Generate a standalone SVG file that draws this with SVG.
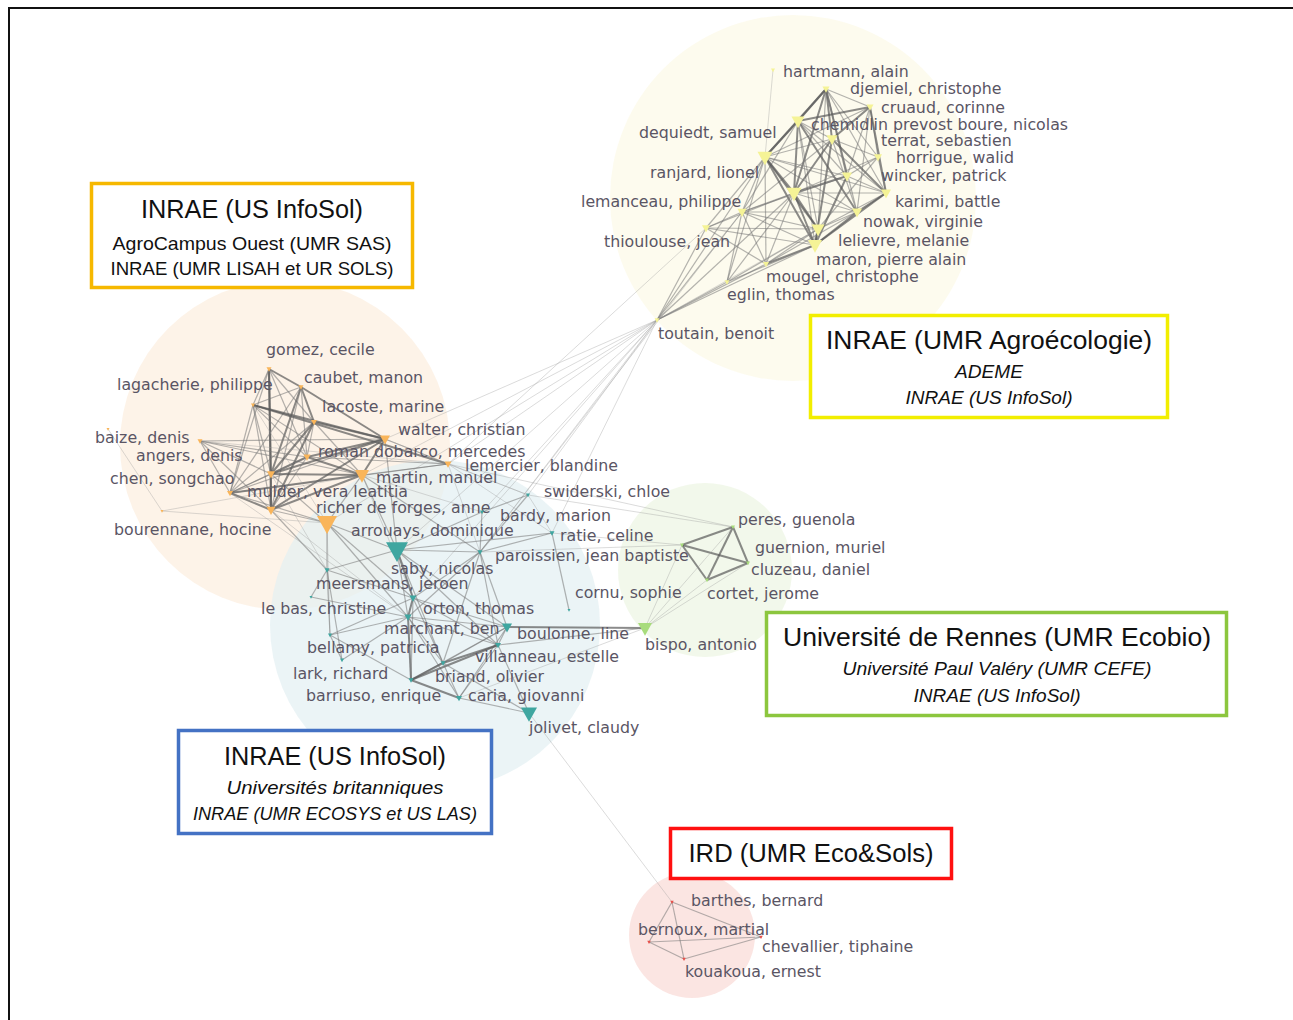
<svg xmlns="http://www.w3.org/2000/svg" xmlns:xlink="http://www.w3.org/1999/xlink" width="1293" height="1020" viewBox="0 0 1293 1020">
<style>
.lab{font-family:"DejaVu Sans",sans-serif;font-size:15.8px;fill:#5a5564}
.bt{font-family:"Liberation Sans",Arial,sans-serif;fill:#111;text-anchor:middle}
.t1{font-size:25px}
.t2{font-size:19px}
.it{font-style:italic}
.box{fill:#fff;stroke-width:3.5}
.e{stroke:#777;stroke-opacity:.55;stroke-width:1.2}
.e2{stroke:#5a5a5a;stroke-opacity:.7;stroke-width:2}
.e0{stroke:#999;stroke-opacity:.45;stroke-width:.8}
.y{fill:#f5f396}
.o{fill:#f9b55a}
.b{fill:#3fa6a0}
.g{fill:#a8dc7c}
.r{fill:#e8504a}
</style>
<defs>
<path id="tri" d="M-0.5,-0.35 L0.5,-0.35 L0,0.55 Z"/>
</defs>
<rect width="1293" height="1020" fill="#fff"/>
<path d="M9,1020 V8 H1293" fill="none" stroke="#111" stroke-width="2"/>

<g id="clusters">
<circle cx="793" cy="198" r="183" fill="#fcfaea" fill-opacity=".8"/>
<circle cx="285" cy="445" r="165" fill="#fcefe0" fill-opacity=".75"/>
<circle cx="435" cy="625" r="165" fill="#e2eff2" fill-opacity=".7"/>
<circle cx="705" cy="570" r="87" fill="#edf5e4" fill-opacity=".75"/>
<circle cx="692" cy="935" r="63" fill="#f9dcd8" fill-opacity=".75"/>
</g>

<g id="connectors">
<!-- top cluster -->
<line class="e0" x1="773" y1="70" x2="765" y2="157"/>
<line class="e2" x1="826" y1="89" x2="798" y2="121"/>
<line class="e2" x1="826" y1="89" x2="765" y2="157"/>
<line class="e2" x1="826" y1="89" x2="794" y2="193"/>
<line class="e2" x1="826" y1="89" x2="832" y2="139"/>
<line class="e2" x1="826" y1="89" x2="847" y2="176"/>
<line class="e" x1="826" y1="89" x2="878" y2="157"/>
<line class="e" x1="826" y1="89" x2="870" y2="107"/>
<line class="e" x1="826" y1="89" x2="886" y2="193"/>
<line class="e" x1="826" y1="89" x2="857" y2="212"/>
<line class="e" x1="826" y1="89" x2="818" y2="229"/>
<line class="e2" x1="870" y1="107" x2="798" y2="121"/>
<line class="e2" x1="870" y1="107" x2="832" y2="139"/>
<line class="e" x1="870" y1="107" x2="878" y2="157"/>
<line class="e2" x1="870" y1="107" x2="886" y2="193"/>
<line class="e" x1="870" y1="107" x2="847" y2="176"/>
<line class="e" x1="870" y1="107" x2="857" y2="212"/>
<line class="e" x1="870" y1="107" x2="765" y2="157"/>
<line class="e2" x1="798" y1="121" x2="765" y2="157"/>
<line class="e2" x1="798" y1="121" x2="794" y2="193"/>
<line class="e" x1="798" y1="121" x2="832" y2="139"/>
<line class="e" x1="798" y1="121" x2="847" y2="176"/>
<line class="e2" x1="798" y1="121" x2="857" y2="212"/>
<line class="e" x1="798" y1="121" x2="818" y2="229"/>
<line class="e" x1="798" y1="121" x2="886" y2="193"/>
<line class="e" x1="798" y1="121" x2="815" y2="245"/>
<line class="e" x1="798" y1="121" x2="742" y2="212"/>
<line class="e2" x1="832" y1="139" x2="794" y2="193"/>
<line class="e" x1="832" y1="139" x2="878" y2="157"/>
<line class="e2" x1="832" y1="139" x2="886" y2="193"/>
<line class="e" x1="832" y1="139" x2="857" y2="212"/>
<line class="e2" x1="832" y1="139" x2="815" y2="245"/>
<line class="e" x1="832" y1="139" x2="765" y2="157"/>
<line class="e" x1="832" y1="139" x2="742" y2="212"/>
<line class="e2" x1="765" y1="157" x2="794" y2="193"/>
<line class="e2" x1="765" y1="157" x2="818" y2="229"/>
<line class="e2" x1="765" y1="157" x2="815" y2="245"/>
<line class="e" x1="765" y1="157" x2="847" y2="176"/>
<line class="e" x1="765" y1="157" x2="857" y2="212"/>
<line class="e" x1="765" y1="157" x2="742" y2="212"/>
<line class="e" x1="765" y1="157" x2="886" y2="193"/>
<line class="e" x1="878" y1="157" x2="886" y2="193"/>
<line class="e" x1="878" y1="157" x2="847" y2="176"/>
<line class="e" x1="878" y1="157" x2="794" y2="193"/>
<line class="e" x1="878" y1="157" x2="818" y2="229"/>
<line class="e2" x1="847" y1="176" x2="794" y2="193"/>
<line class="e" x1="847" y1="176" x2="886" y2="193"/>
<line class="e2" x1="847" y1="176" x2="815" y2="245"/>
<line class="e" x1="847" y1="176" x2="742" y2="212"/>
<line class="e2" x1="794" y1="193" x2="818" y2="229"/>
<line class="e2" x1="794" y1="193" x2="815" y2="245"/>
<line class="e" x1="794" y1="193" x2="857" y2="212"/>
<line class="e" x1="794" y1="193" x2="886" y2="193"/>
<line class="e2" x1="886" y1="193" x2="857" y2="212"/>
<line class="e" x1="886" y1="193" x2="818" y2="229"/>
<line class="e2" x1="886" y1="193" x2="815" y2="245"/>
<line class="e" x1="857" y1="212" x2="818" y2="229"/>
<line class="e2" x1="857" y1="212" x2="815" y2="245"/>
<line class="e2" x1="818" y1="229" x2="815" y2="245"/>
<line class="e" x1="742" y1="212" x2="794" y2="193"/>
<line class="e" x1="742" y1="212" x2="815" y2="245"/>
<line class="e" x1="742" y1="212" x2="818" y2="229"/>
<line class="e" x1="742" y1="212" x2="857" y2="212"/>
<line class="e" x1="742" y1="212" x2="706" y2="228"/>
<line class="e" x1="742" y1="212" x2="766" y2="264"/>
<line class="e" x1="706" y1="228" x2="765" y2="157"/>
<line class="e" x1="706" y1="228" x2="815" y2="245"/>
<line class="e" x1="706" y1="228" x2="794" y2="193"/>
<line class="e" x1="706" y1="228" x2="766" y2="264"/>
<line class="e" x1="706" y1="228" x2="818" y2="229"/>
<line class="e" x1="766" y1="264" x2="794" y2="193"/>
<line class="e2" x1="766" y1="264" x2="815" y2="245"/>
<line class="e" x1="766" y1="264" x2="765" y2="157"/>
<line class="e" x1="766" y1="264" x2="818" y2="229"/>
<line class="e" x1="766" y1="264" x2="857" y2="212"/>
<line class="e" x1="727" y1="282" x2="815" y2="245"/>
<line class="e" x1="727" y1="282" x2="794" y2="193"/>
<line class="e" x1="727" y1="282" x2="765" y2="157"/>
<line class="e" x1="727" y1="282" x2="742" y2="212"/>
<line class="e" x1="727" y1="282" x2="818" y2="229"/>
<line class="e" x1="657" y1="320" x2="742" y2="212"/>
<line class="e" x1="657" y1="320" x2="706" y2="228"/>
<line class="e" x1="657" y1="320" x2="765" y2="157"/>
<line class="e" x1="657" y1="320" x2="727" y2="282"/>
<line class="e" x1="657" y1="320" x2="766" y2="264"/>
<line class="e" x1="657" y1="320" x2="794" y2="193"/>
<line class="e" x1="657" y1="320" x2="815" y2="245"/>
<line class="e0" x1="657" y1="320" x2="818" y2="229"/>
<!-- toutain fan -->
<line class="e0" x1="657" y1="320" x2="385" y2="439"/>
<line class="e0" x1="657" y1="320" x2="448" y2="464"/>
<line class="e0" x1="657" y1="320" x2="362" y2="475"/>
<line class="e0" x1="657" y1="320" x2="528" y2="495"/>
<line class="e0" x1="657" y1="320" x2="482" y2="512"/>
<line class="e0" x1="657" y1="320" x2="552" y2="533"/>
<line class="e0" x1="657" y1="320" x2="397" y2="550"/>
<line class="e0" x1="657" y1="320" x2="480" y2="552"/>
<line class="e0" x1="657" y1="320" x2="413" y2="598"/>
<line class="e0" x1="657" y1="320" x2="327" y2="523"/>
<line class="e0" x1="706" y1="228" x2="448" y2="464"/>
<line class="e0" x1="742" y1="212" x2="480" y2="552"/>
<!-- orange cluster -->
<line class="e2" x1="269" y1="369" x2="301" y2="387"/>
<line class="e" x1="269" y1="369" x2="253" y2="405"/>
<line class="e" x1="269" y1="369" x2="314" y2="422"/>
<line class="e2" x1="269" y1="369" x2="271" y2="474"/>
<line class="e2" x1="269" y1="369" x2="271" y2="510"/>
<line class="e" x1="269" y1="369" x2="307" y2="457"/>
<line class="e" x1="269" y1="369" x2="230" y2="493"/>
<line class="e" x1="301" y1="387" x2="253" y2="405"/>
<line class="e2" x1="301" y1="387" x2="314" y2="422"/>
<line class="e" x1="301" y1="387" x2="307" y2="457"/>
<line class="e2" x1="301" y1="387" x2="271" y2="474"/>
<line class="e" x1="301" y1="387" x2="271" y2="510"/>
<line class="e" x1="301" y1="387" x2="230" y2="493"/>
<line class="e2" x1="301" y1="387" x2="385" y2="439"/>
<line class="e" x1="253" y1="405" x2="314" y2="422"/>
<line class="e2" x1="253" y1="405" x2="385" y2="439"/>
<line class="e2" x1="253" y1="405" x2="448" y2="464"/>
<line class="e" x1="253" y1="405" x2="307" y2="457"/>
<line class="e" x1="253" y1="405" x2="271" y2="474"/>
<line class="e" x1="253" y1="405" x2="230" y2="493"/>
<line class="e" x1="253" y1="405" x2="271" y2="510"/>
<line class="e" x1="253" y1="405" x2="362" y2="475"/>
<line class="e2" x1="314" y1="422" x2="385" y2="439"/>
<line class="e" x1="314" y1="422" x2="307" y2="457"/>
<line class="e2" x1="314" y1="422" x2="271" y2="474"/>
<line class="e" x1="314" y1="422" x2="362" y2="475"/>
<line class="e" x1="314" y1="422" x2="230" y2="493"/>
<line class="e2" x1="314" y1="422" x2="271" y2="510"/>
<line class="e" x1="200" y1="441" x2="385" y2="439"/>
<line class="e" x1="200" y1="441" x2="271" y2="474"/>
<line class="e" x1="200" y1="441" x2="362" y2="475"/>
<line class="e" x1="200" y1="441" x2="271" y2="510"/>
<line class="e" x1="200" y1="441" x2="307" y2="457"/>
<line class="e" x1="200" y1="441" x2="230" y2="493"/>
<line class="e0" x1="200" y1="441" x2="448" y2="464"/>
<line class="e2" x1="385" y1="439" x2="307" y2="457"/>
<line class="e2" x1="385" y1="439" x2="271" y2="474"/>
<line class="e2" x1="385" y1="439" x2="362" y2="475"/>
<line class="e" x1="385" y1="439" x2="230" y2="493"/>
<line class="e2" x1="385" y1="439" x2="271" y2="510"/>
<line class="e" x1="385" y1="439" x2="448" y2="464"/>
<line class="e2" x1="307" y1="457" x2="271" y2="474"/>
<line class="e2" x1="307" y1="457" x2="362" y2="475"/>
<line class="e" x1="307" y1="457" x2="230" y2="493"/>
<line class="e" x1="307" y1="457" x2="271" y2="510"/>
<line class="e" x1="307" y1="457" x2="448" y2="464"/>
<line class="e2" x1="271" y1="474" x2="362" y2="475"/>
<line class="e" x1="271" y1="474" x2="230" y2="493"/>
<line class="e2" x1="271" y1="474" x2="271" y2="510"/>
<line class="e2" x1="362" y1="475" x2="230" y2="493"/>
<line class="e2" x1="362" y1="475" x2="271" y2="510"/>
<line class="e" x1="362" y1="475" x2="327" y2="523"/>
<line class="e" x1="362" y1="475" x2="448" y2="464"/>
<line class="e2" x1="230" y1="493" x2="271" y2="510"/>
<line class="e" x1="230" y1="493" x2="327" y2="523"/>
<line class="e" x1="271" y1="510" x2="327" y2="523"/>
<line class="e" x1="271" y1="474" x2="327" y2="523"/>
<line class="e" x1="230" y1="493" x2="448" y2="464"/>
<line class="e0" x1="108" y1="429" x2="162" y2="511"/>
<line class="e0" x1="162" y1="511" x2="362" y2="475"/>
<line class="e0" x1="162" y1="511" x2="327" y2="523"/>
<line class="e0" x1="253" y1="405" x2="327" y2="523"/>
<!-- orange-teal -->
<line class="e" x1="327" y1="523" x2="397" y2="550"/>
<line class="e" x1="327" y1="523" x2="327" y2="570"/>
<line class="e" x1="327" y1="523" x2="413" y2="598"/>
<line class="e" x1="327" y1="523" x2="408" y2="617"/>
<line class="e0" x1="327" y1="523" x2="330" y2="635"/>
<line class="e" x1="362" y1="475" x2="397" y2="550"/>
<line class="e" x1="362" y1="475" x2="480" y2="552"/>
<line class="e0" x1="362" y1="475" x2="482" y2="512"/>
<line class="e0" x1="362" y1="475" x2="413" y2="598"/>
<line class="e" x1="271" y1="510" x2="327" y2="570"/>
<line class="e0" x1="271" y1="510" x2="408" y2="617"/>
<line class="e0" x1="271" y1="474" x2="327" y2="570"/>
<line class="e" x1="385" y1="439" x2="397" y2="550"/>
<line class="e0" x1="385" y1="439" x2="528" y2="495"/>
<line class="e0" x1="448" y1="464" x2="528" y2="495"/>
<line class="e0" x1="448" y1="464" x2="480" y2="552"/>
<line class="e0" x1="448" y1="464" x2="552" y2="533"/>
<line class="e0" x1="448" y1="464" x2="733" y2="527"/>
<line class="e0" x1="230" y1="493" x2="408" y2="617"/>
<!-- teal cluster -->
<line class="e" x1="397" y1="550" x2="480" y2="552"/>
<line class="e2" x1="397" y1="550" x2="413" y2="598"/>
<line class="e" x1="397" y1="550" x2="408" y2="617"/>
<line class="e" x1="397" y1="550" x2="327" y2="570"/>
<line class="e" x1="397" y1="550" x2="482" y2="512"/>
<line class="e" x1="397" y1="550" x2="552" y2="533"/>
<line class="e" x1="397" y1="550" x2="507" y2="627"/>
<line class="e" x1="397" y1="550" x2="498" y2="645"/>
<line class="e" x1="397" y1="550" x2="443" y2="663"/>
<line class="e" x1="480" y1="552" x2="482" y2="512"/>
<line class="e" x1="480" y1="552" x2="528" y2="495"/>
<line class="e" x1="480" y1="552" x2="413" y2="598"/>
<line class="e" x1="480" y1="552" x2="408" y2="617"/>
<line class="e" x1="480" y1="552" x2="498" y2="645"/>
<line class="e" x1="480" y1="552" x2="507" y2="627"/>
<line class="e" x1="480" y1="552" x2="552" y2="533"/>
<line class="e" x1="480" y1="552" x2="443" y2="663"/>
<line class="e" x1="482" y1="512" x2="528" y2="495"/>
<line class="e" x1="552" y1="533" x2="569" y2="610"/>
<line class="e0" x1="552" y1="533" x2="528" y2="495"/>
<line class="e" x1="327" y1="570" x2="311" y2="597"/>
<line class="e" x1="327" y1="570" x2="330" y2="635"/>
<line class="e" x1="327" y1="570" x2="342" y2="660"/>
<line class="e" x1="327" y1="570" x2="413" y2="598"/>
<line class="e" x1="311" y1="597" x2="408" y2="617"/>
<line class="e2" x1="413" y1="598" x2="408" y2="617"/>
<line class="e" x1="413" y1="598" x2="507" y2="627"/>
<line class="e" x1="413" y1="598" x2="498" y2="645"/>
<line class="e" x1="413" y1="598" x2="443" y2="663"/>
<line class="e" x1="413" y1="598" x2="411" y2="680"/>
<line class="e" x1="413" y1="598" x2="330" y2="635"/>
<line class="e" x1="408" y1="617" x2="507" y2="627"/>
<line class="e" x1="408" y1="617" x2="498" y2="645"/>
<line class="e" x1="408" y1="617" x2="443" y2="663"/>
<line class="e2" x1="408" y1="617" x2="411" y2="680"/>
<line class="e" x1="408" y1="617" x2="459" y2="698"/>
<line class="e" x1="408" y1="617" x2="342" y2="660"/>
<line class="e" x1="408" y1="617" x2="330" y2="635"/>
<line class="e" x1="507" y1="627" x2="498" y2="645"/>
<line class="e" x1="507" y1="627" x2="443" y2="663"/>
<line class="e" x1="507" y1="627" x2="411" y2="680"/>
<line class="e" x1="507" y1="627" x2="459" y2="698"/>
<line class="e2" x1="498" y1="645" x2="443" y2="663"/>
<line class="e2" x1="498" y1="645" x2="411" y2="680"/>
<line class="e" x1="498" y1="645" x2="459" y2="698"/>
<line class="e" x1="498" y1="645" x2="529" y2="713"/>
<line class="e2" x1="443" y1="663" x2="411" y2="680"/>
<line class="e" x1="443" y1="663" x2="459" y2="698"/>
<line class="e2" x1="411" y1="680" x2="459" y2="698"/>
<line class="e" x1="459" y1="698" x2="529" y2="713"/>
<line class="e" x1="443" y1="663" x2="529" y2="713"/>
<line class="e" x1="330" y1="635" x2="342" y2="660"/>
<line class="e" x1="330" y1="635" x2="411" y2="680"/>
<line class="e2" x1="507" y1="627" x2="645" y2="628"/>
<line class="e" x1="498" y1="645" x2="645" y2="628"/>
<line class="e0" x1="459" y1="698" x2="645" y2="628"/>
<line class="e0" x1="529" y1="713" x2="672" y2="902"/>
<!-- green cluster -->
<line class="e2" x1="733" y1="527" x2="682" y2="545"/>
<line class="e2" x1="733" y1="527" x2="748" y2="563"/>
<line class="e2" x1="733" y1="527" x2="707" y2="580"/>
<line class="e2" x1="682" y1="545" x2="748" y2="563"/>
<line class="e2" x1="682" y1="545" x2="707" y2="580"/>
<line class="e2" x1="707" y1="580" x2="748" y2="563"/>
<line class="e0" x1="645" y1="628" x2="733" y2="527"/>
<line class="e0" x1="645" y1="628" x2="682" y2="545"/>
<line class="e0" x1="645" y1="628" x2="748" y2="563"/>
<line class="e0" x1="645" y1="628" x2="707" y2="580"/>
<line class="e0" x1="480" y1="552" x2="682" y2="545"/>
<line class="e0" x1="528" y1="495" x2="733" y2="527"/>
<line class="e0" x1="552" y1="533" x2="682" y2="545"/>
<!-- red cluster -->
<line class="e" x1="672" y1="902" x2="649" y2="942"/>
<line class="e" x1="672" y1="902" x2="684" y2="959"/>
<line class="e" x1="672" y1="902" x2="761" y2="937"/>
<line class="e" x1="649" y1="942" x2="761" y2="937"/>
<line class="e" x1="649" y1="942" x2="684" y2="959"/>
<line class="e" x1="684" y1="959" x2="761" y2="937"/>
</g>

<!-- top (yellow) cluster -->
<g id="n-hartmann"><use href="#tri" class="y" transform="translate(773,70) scale(4)"/><text class="lab" x="783" y="77">hartmann, alain</text></g>
<g id="n-djemiel"><use href="#tri" class="y" transform="translate(826,89) scale(7)"/><text class="lab" x="850" y="94">djemiel, christophe</text></g>
<g id="n-cruaud"><use href="#tri" class="y" transform="translate(870,107) scale(7)"/><text class="lab" x="881" y="113">cruaud, corinne</text></g>
<g id="n-chemidlin"><use href="#tri" class="y" transform="translate(798,121) scale(13)"/><text class="lab" x="811" y="130">chemidlin prevost boure, nicolas</text></g>
<g id="n-terrat"><use href="#tri" class="y" transform="translate(832,139) scale(11)"/><text class="lab" x="881" y="146">terrat, sebastien</text></g>
<g id="n-dequiedt"><use href="#tri" class="y" transform="translate(765,157) scale(15)"/><text class="lab" x="639" y="138">dequiedt, samuel</text></g>
<g id="n-horrigue"><use href="#tri" class="y" transform="translate(878,157) scale(8)"/><text class="lab" x="896" y="163">horrigue, walid</text></g>
<g id="n-ranjard"><use href="#tri" class="y" transform="translate(847,176) scale(10)"/><text class="lab" x="650" y="178">ranjard, lionel</text></g>
<g id="n-wincker"><use href="#tri" class="y" transform="translate(794,193) scale(15)"/><text class="lab" x="881" y="181">wincker, patrick</text></g>
<g id="n-karimi"><use href="#tri" class="y" transform="translate(886,193) scale(10)"/><text class="lab" x="895" y="207">karimi, battle</text></g>
<g id="n-lemanceau"><use href="#tri" class="y" transform="translate(742,212) scale(9)"/><text class="lab" x="581" y="207">lemanceau, philippe</text></g>
<g id="n-nowak"><use href="#tri" class="y" transform="translate(857,212) scale(10)"/><text class="lab" x="863" y="227">nowak, virginie</text></g>
<g id="n-thioulouse"><use href="#tri" class="y" transform="translate(706,228) scale(8)"/><text class="lab" x="604" y="247">thioulouse, jean</text></g>
<g id="n-lelievre"><use href="#tri" class="y" transform="translate(818,229) scale(13)"/><text class="lab" x="838" y="246">lelievre, melanie</text></g>
<g id="n-maron"><use href="#tri" class="y" transform="translate(815,245) scale(14)"/><text class="lab" x="816" y="265">maron, pierre alain</text></g>
<g id="n-mougel"><use href="#tri" class="y" transform="translate(766,264) scale(6)"/><text class="lab" x="766" y="282">mougel, christophe</text></g>
<g id="n-eglin"><use href="#tri" class="y" transform="translate(727,282) scale(5)"/><text class="lab" x="727" y="300">eglin, thomas</text></g>
<g id="n-toutain"><use href="#tri" class="y" transform="translate(657,320) scale(5)"/><text class="lab" x="658" y="339">toutain, benoit</text></g>

<!-- orange cluster -->
<g id="n-gomez"><use href="#tri" class="o" transform="translate(269,369) scale(5)"/><text class="lab" x="266" y="355">gomez, cecile</text></g>
<g id="n-caubet"><use href="#tri" class="o" transform="translate(301,387) scale(5)"/><text class="lab" x="304" y="383">caubet, manon</text></g>
<g id="n-lagacherie"><use href="#tri" class="o" transform="translate(253,405) scale(4)"/><text class="lab" x="117" y="390">lagacherie, philippe</text></g>
<g id="n-lacoste"><use href="#tri" class="o" transform="translate(314,422) scale(6)"/><text class="lab" x="322" y="412">lacoste, marine</text></g>
<g id="n-o5"><use href="#tri" class="o" transform="translate(108,429) scale(3)"/></g>
<g id="n-baize"><use href="#tri" class="o" transform="translate(200,441) scale(5)"/><text class="lab" x="95" y="443">baize, denis</text></g>
<g id="n-walter"><use href="#tri" class="o" transform="translate(385,439) scale(10)"/><text class="lab" x="398" y="435">walter, christian</text></g>
<g id="n-angers"><use href="#tri" class="o" transform="translate(307,457) scale(7)"/><text class="lab" x="136" y="461">angers, denis</text></g>
<g id="n-roman"><use href="#tri" class="o" transform="translate(448,464) scale(7)"/><text class="lab" x="318" y="457">roman dobarco, mercedes</text></g>
<g id="n-lemercier"><text class="lab" x="465" y="471">lemercier, blandine</text></g>
<g id="n-o10"><use href="#tri" class="o" transform="translate(271,474) scale(8)"/></g>
<g id="n-martin"><use href="#tri" class="o" transform="translate(362,475) scale(14)"/><text class="lab" x="376" y="483">martin, manuel</text></g>
<g id="n-chen"><use href="#tri" class="o" transform="translate(230,493) scale(6)"/><text class="lab" x="110" y="484">chen, songchao</text></g>
<g id="n-mulder"><use href="#tri" class="o" transform="translate(271,510) scale(9)"/><text class="lab" x="247" y="497">mulder, vera leatitia</text></g>
<g id="n-bourennane"><use href="#tri" class="o" transform="translate(162,511) scale(3)"/><text class="lab" x="114" y="535">bourennane, hocine</text></g>
<g id="n-richer"><use href="#tri" class="o" transform="translate(327,523) scale(20)"/><text class="lab" x="316" y="513">richer de forges, anne</text></g>

<!-- teal cluster -->
<g id="n-swiderski"><use href="#tri" class="b" transform="translate(528,495) scale(4)"/><text class="lab" x="544" y="497">swiderski, chloe</text></g>
<g id="n-bardy"><use href="#tri" class="b" transform="translate(482,512) scale(4)"/><text class="lab" x="500" y="521">bardy, marion</text></g>
<g id="n-ratie"><use href="#tri" class="b" transform="translate(552,533) scale(5)"/><text class="lab" x="560" y="541">ratie, celine</text></g>
<g id="n-arrouays"><use href="#tri" class="b" transform="translate(397,550) scale(22)"/><text class="lab" x="351" y="536">arrouays, dominique</text></g>
<g id="n-paroissien"><use href="#tri" class="b" transform="translate(480,552) scale(5)"/><text class="lab" x="495" y="561">paroissien, jean baptiste</text></g>
<g id="n-saby"><text class="lab" x="391" y="574">saby, nicolas</text></g>
<g id="n-meersmans"><use href="#tri" class="b" transform="translate(327,570) scale(5)"/><text class="lab" x="316" y="589">meersmans, jeroen</text></g>
<g id="n-lebas"><use href="#tri" class="b" transform="translate(311,597) scale(3)"/><text class="lab" x="261" y="614">le bas, christine</text></g>
<g id="n-b8"><use href="#tri" class="b" transform="translate(413,598) scale(7)"/></g>
<g id="n-orton"><use href="#tri" class="b" transform="translate(408,617) scale(7)"/><text class="lab" x="423" y="614">orton, thomas</text></g>
<g id="n-cornu"><use href="#tri" class="b" transform="translate(569,610) scale(3)"/><text class="lab" x="575" y="598">cornu, sophie</text></g>
<g id="n-marchant"><use href="#tri" class="b" transform="translate(507,627) scale(10)"/><text class="lab" x="384" y="634">marchant, ben</text></g>
<g id="n-boulonne"><text class="lab" x="517" y="639">boulonne, line</text></g>
<g id="n-b12"><use href="#tri" class="b" transform="translate(330,635) scale(4)"/></g>
<g id="n-villanneau"><use href="#tri" class="b" transform="translate(498,645) scale(6)"/><text class="lab" x="475" y="662">villanneau, estelle</text></g>
<g id="n-bellamy"><use href="#tri" class="b" transform="translate(342,660) scale(4)"/><text class="lab" x="307" y="653">bellamy, patricia</text></g>
<g id="n-briand"><use href="#tri" class="b" transform="translate(443,663) scale(5)"/><text class="lab" x="435" y="682">briand, olivier</text></g>
<g id="n-lark"><use href="#tri" class="b" transform="translate(411,680) scale(5)"/><text class="lab" x="293" y="679">lark, richard</text></g>
<g id="n-barriuso"><text class="lab" x="306" y="701">barriuso, enrique</text></g>
<g id="n-caria"><use href="#tri" class="b" transform="translate(459,698) scale(6)"/><text class="lab" x="468" y="701">caria, giovanni</text></g>
<g id="n-jolivet"><use href="#tri" class="b" transform="translate(529,713) scale(16)"/><text class="lab" x="529" y="733">jolivet, claudy</text></g>

<!-- green cluster -->
<g id="n-peres"><use href="#tri" class="g" transform="translate(733,527) scale(4)"/><text class="lab" x="738" y="525">peres, guenola</text></g>
<g id="n-guernion"><use href="#tri" class="g" transform="translate(682,545) scale(4)"/><text class="lab" x="755" y="553">guernion, muriel</text></g>
<g id="n-cluzeau"><use href="#tri" class="g" transform="translate(748,563) scale(4)"/><text class="lab" x="751" y="575">cluzeau, daniel</text></g>
<g id="n-cortet"><use href="#tri" class="g" transform="translate(707,580) scale(4)"/><text class="lab" x="707" y="599">cortet, jerome</text></g>
<g id="n-bispo"><use href="#tri" class="g" transform="translate(645,628) scale(14)"/><text class="lab" x="645" y="650">bispo, antonio</text></g>

<!-- red cluster -->
<g id="n-barthes"><use href="#tri" class="r" transform="translate(672,902) scale(3.5)"/><text class="lab" x="691" y="906">barthes, bernard</text></g>
<g id="n-bernoux"><use href="#tri" class="r" transform="translate(649,942) scale(3.5)"/><text class="lab" x="638" y="935">bernoux, martial</text></g>
<g id="n-chevallier"><use href="#tri" class="r" transform="translate(761,937) scale(3.5)"/><text class="lab" x="762" y="952">chevallier, tiphaine</text></g>
<g id="n-kouakoua"><use href="#tri" class="r" transform="translate(684,959) scale(3.5)"/><text class="lab" x="685" y="977">kouakoua, ernest</text></g>

<!-- legend boxes -->
<g id="box-orange">
<rect class="box" x="91.5" y="183.5" width="321" height="104" stroke="#f6b800"/>
<text class="bt t1" x="252" y="218" textLength="222" lengthAdjust="spacingAndGlyphs">INRAE (US InfoSol)</text>
<text class="bt t2" x="252" y="250" textLength="279" lengthAdjust="spacingAndGlyphs">AgroCampus Ouest (UMR SAS)</text>
<text class="bt t2" x="252" y="275" textLength="283" lengthAdjust="spacingAndGlyphs">INRAE (UMR LISAH et UR SOLS)</text>
</g>
<g id="box-yellow">
<rect class="box" x="810.5" y="315.5" width="357" height="102" stroke="#f2ee00"/>
<text class="bt t1" x="989" y="349" textLength="326" lengthAdjust="spacingAndGlyphs">INRAE (UMR Agroécologie)</text>
<text class="bt t2 it" x="989" y="378" textLength="68" lengthAdjust="spacingAndGlyphs">ADEME</text>
<text class="bt t2 it" x="989" y="404" textLength="167" lengthAdjust="spacingAndGlyphs">INRAE (US InfoSol)</text>
</g>
<g id="box-green">
<rect class="box" x="766.5" y="612.5" width="460" height="103" stroke="#8cc63e"/>
<text class="bt t1" x="997" y="646" textLength="428" lengthAdjust="spacingAndGlyphs">Université de Rennes (UMR Ecobio)</text>
<text class="bt t2 it" x="997" y="675" textLength="309" lengthAdjust="spacingAndGlyphs">Université Paul Valéry (UMR CEFE)</text>
<text class="bt t2 it" x="997" y="702" textLength="167" lengthAdjust="spacingAndGlyphs">INRAE (US InfoSol)</text>
</g>
<g id="box-blue">
<rect class="box" x="178.5" y="730.5" width="313" height="103" stroke="#4472c4"/>
<text class="bt t1" x="335" y="765" textLength="222" lengthAdjust="spacingAndGlyphs">INRAE (US InfoSol)</text>
<text class="bt t2 it" x="335" y="794" textLength="217" lengthAdjust="spacingAndGlyphs">Universités britanniques</text>
<text class="bt t2 it" x="335" y="820" textLength="284" lengthAdjust="spacingAndGlyphs">INRAE (UMR ECOSYS et US LAS)</text>
</g>
<g id="box-red">
<rect class="box" x="670.5" y="828.5" width="281" height="50" stroke="#ff1010"/>
<text class="bt t1" x="811" y="862" textLength="245" lengthAdjust="spacingAndGlyphs">IRD (UMR Eco&amp;Sols)</text>
</g>
</svg>
